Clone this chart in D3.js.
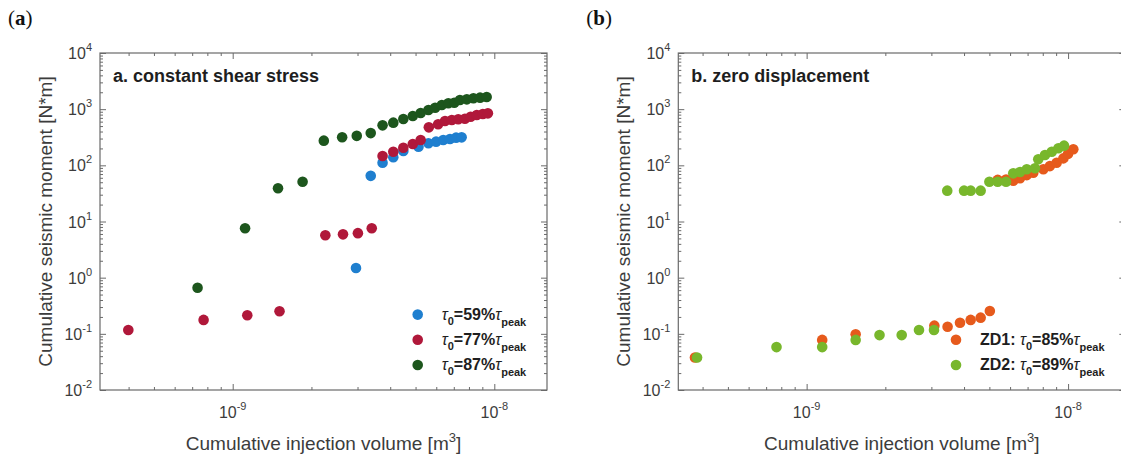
<!DOCTYPE html>
<html>
<head>
<meta charset="utf-8">
<script src="https://cdn.jsdelivr.net/npm/d3@7"></script>
<style>
  body { margin: 0; background: #fff; }
  svg { display: block; }
</style>
</head>
<body>
<svg id="chart" width="1121" height="456"></svg>
<script>
// ---- panel (a): constant shear stress ----
const volA59 = [2.96e-9, 3.37e-9, 3.74e-9, 4.11e-9, 4.49e-9, 5.13e-9, 5.6e-9, 5.99e-9, 6.38e-9, 6.77e-9, 7.14e-9, 7.5e-9];
const momA59 = [1.49, 65, 111, 139, 180, 215, 247, 264, 283, 294, 311, 315];

const volA77 = [3.99e-10, 7.74e-10, 1.137e-9, 1.51e-9, 2.26e-9, 2.64e-9, 3.01e-9, 3.4e-9, 3.74e-9, 4.11e-9, 4.49e-9, 4.88e-9,
  5.23e-9, 5.62e-9, 6.1e-9, 6.48e-9, 6.88e-9, 7.28e-9, 7.72e-9, 8.12e-9, 8.57e-9, 9.04e-9, 9.45e-9];
const momA77 = [0.117, 0.177, 0.214, 0.252, 5.7, 5.9, 6.2, 7.6, 147, 175, 206, 240,
  283, 475, 538, 615, 641, 660, 676, 735, 787, 820, 843];

const volA87 = [7.34e-10, 1.115e-9, 1.49e-9, 1.85e-9, 2.23e-9, 2.62e-9, 2.98e-9, 3.37e-9, 3.74e-9, 4.11e-9, 4.49e-9, 4.88e-9,
  5.23e-9, 5.6e-9, 5.94e-9, 6.3e-9, 6.67e-9, 7.03e-9, 7.39e-9, 7.85e-9, 8.32e-9, 8.82e-9, 9.35e-9];
const momA87 = [0.66, 7.6, 39, 51, 275, 316, 335, 375, 515, 575, 668, 757,
  855, 966, 1062, 1186, 1271, 1303, 1455, 1496, 1563, 1603, 1648];

// ---- panel (b): zero displacement ----
const volZD1 = [3.74e-10, 1.147e-9, 1.54e-9, 3.08e-9, 3.46e-9, 3.86e-9, 4.24e-9, 4.63e-9, 5.02e-9, 5.38e-9, 5.79e-9,
  6.17e-9, 6.55e-9, 6.95e-9, 7.36e-9, 8.04e-9, 8.52e-9, 9.04e-9, 9.59e-9, 1.0e-8, 1.047e-8];
const momZD1 = [0.038, 0.078, 0.098, 0.14, 0.134, 0.158, 0.177, 0.194, 0.255, 55, 56,
  53, 59, 67, 74, 85, 97, 111, 133, 160, 193];

const volZD2 = [3.81e-10, 7.67e-10, 1.147e-9, 1.54e-9, 1.9e-9, 2.31e-9, 2.69e-9, 3.07e-9, 3.45e-9, 4.0e-9, 4.24e-9, 4.63e-9,
  5.0e-9, 5.38e-9, 5.79e-9, 6.17e-9, 6.55e-9, 6.95e-9, 7.47e-9, 7.69e-9, 8.16e-9, 8.66e-9, 9.18e-9, 9.65e-9];
const momZD2 = [0.038, 0.058, 0.058, 0.078, 0.095, 0.095, 0.117, 0.117, 35.4, 35.4, 35.4, 35.4,
  51, 51, 51, 72, 76, 85, 88.5, 128, 153, 175, 201, 224];

const yTicks = [1e-2, 1e-1, 1e0, 1e1, 1e2, 1e3, 1e4];
const xTicks = [1e-9, 1e-8];

const legendA = [
  { pre: '', pct: '59', color: '#1f7fcf' },
  { pre: '', pct: '77', color: '#b0183a' },
  { pre: '', pct: '87', color: '#1d561d' },
];
const legendB = [
  { pre: 'ZD1: ', pct: '85', color: '#e65a1c' },
  { pre: 'ZD2: ', pct: '89', color: '#78b72c' },
];

const svg = d3.select('#chart');
const FONT = 'Arial, "Liberation Sans", Helvetica, sans-serif';
const AXC = '#6a6a6a', TXC = '#3c3c3c';

function minorTicks(domain) {
  const out = [];
  for (let e = -13; e <= 5; e++)
    for (let m = 2; m <= 9; m++) {
      const v = m * Math.pow(10, e);
      if (v > domain[0] && v < domain[1]) out.push(v);
    }
  return out;
}

function drawPanel(opt) {
  const left = opt.left, right = opt.left + 447, top = 53, bottom = 390;
  const g = svg.append('g');
  const x = d3.scaleLog().domain(opt.xDomain).range([left, right]);
  const y = d3.scaleLog().domain([1e-2, 1e4]).range([bottom, top]);

  // ticks on all four sides, pointing inward
  const axes = [
    [d3.axisBottom(x), xTicks, minorTicks(opt.xDomain), `translate(0,${bottom})`],
    [d3.axisTop(x), xTicks, minorTicks(opt.xDomain), `translate(0,${top})`],
    [d3.axisLeft(y), yTicks, minorTicks([1e-2, 1e4]), `translate(${left},0)`],
    [d3.axisRight(y), yTicks, minorTicks([1e-2, 1e4]), `translate(${right},0)`],
  ];
  axes.forEach(([ax, major, minor, tr]) => {
    g.append('g').attr('transform', tr)
      .call(ax.tickValues(minor).tickSize(-3).tickFormat(''))
      .call(s => s.select('.domain').remove())
      .selectAll('line').attr('stroke', AXC);
    g.append('g').attr('transform', tr)
      .call(ax.tickValues(major).tickSize(-6).tickFormat(''))
      .call(s => s.select('.domain').remove())
      .selectAll('line').attr('stroke', AXC);
  });
  g.append('rect').attr('x', left).attr('y', top).attr('width', right - left).attr('height', bottom - top)
    .attr('fill', 'none').attr('stroke', AXC).attr('stroke-width', 1.2);

  // tick labels 10^n
  const yl = g.append('g').attr('font-family', FONT).attr('fill', TXC);
  yTicks.forEach(v => {
    const t = yl.append('text').attr('x', left - 8).attr('y', y(v) + 6)
      .attr('text-anchor', 'end').attr('font-size', 16);
    t.append('tspan').text('10');
    t.append('tspan').attr('font-size', 11).attr('dy', -8).text(Math.round(Math.log10(v)));
  });
  xTicks.forEach(v => {
    const t = yl.append('text').attr('x', x(v)).attr('y', 418)
      .attr('text-anchor', 'middle').attr('font-size', 16);
    t.append('tspan').text('10');
    t.append('tspan').attr('font-size', 11).attr('dy', -8).text(Math.round(Math.log10(v)));
  });

  // axis titles
  const xt = g.append('text').attr('x', (left + right) / 2).attr('y', 450)
    .attr('text-anchor', 'middle').attr('font-family', FONT).attr('font-size', 19).attr('fill', TXC);
  xt.append('tspan').text('Cumulative injection volume [m');
  xt.append('tspan').attr('font-size', 13).attr('dy', -8).text('3');
  xt.append('tspan').attr('dy', 8).text(']');
  g.append('text').attr('transform', `translate(${left - 48},${(top + bottom) / 2}) rotate(-90)`)
    .attr('text-anchor', 'middle').attr('font-family', FONT).attr('font-size', 19).attr('fill', TXC)
    .text('Cumulative seismic moment [N*m]');

  // panel title inside axes
  g.append('text').attr('x', left + 13).attr('y', 82).attr('font-family', FONT)
    .attr('font-size', 18).attr('font-weight', 'bold').attr('fill', '#1e1e1e').text(opt.title);

  // outer panel letter
  const pl = g.append('text').attr('x', opt.left - 92).attr('y', 25)
    .attr('font-family', '"Liberation Serif", "DejaVu Serif", serif').attr('font-size', 21).attr('fill', '#111');
  pl.append('tspan').text('(');
  pl.append('tspan').attr('font-weight', 'bold').text(opt.letter);
  pl.append('tspan').text(')');

  // data
  opt.series.forEach(s => {
    g.append('g').selectAll('circle').data(d3.zip(s.vol, s.mom)).join('circle')
      .attr('cx', d => x(d[0])).attr('cy', d => y(d[1])).attr('r', 5.3)
      .attr('fill', s.color);
  });

  // legend
  const lg = g.append('g').attr('font-family', FONT).attr('font-weight', 'bold').attr('fill', '#1e1e1e');
  const n = opt.legend.length;
  opt.legend.forEach((d, i) => {
    const cy = 365 - (n - 1 - i) * 25.2;
    lg.append('circle').attr('cx', opt.legX).attr('cy', cy).attr('r', 5.3).attr('fill', d.color);
    const t = lg.append('text').attr('x', opt.legX + 24).attr('y', cy + 5).attr('font-size', 16);
    if (d.pre) t.append('tspan').text(d.pre);
    t.append('tspan').attr('font-style', 'italic').attr('font-weight', 'normal').text('τ');
    t.append('tspan').attr('font-size', 11).attr('dy', 5).text('0');
    t.append('tspan').attr('dy', -5).text(`=${d.pct}%`);
    t.append('tspan').attr('font-style', 'italic').attr('font-weight', 'normal').text('τ');
    t.append('tspan').attr('font-size', 11).attr('dy', 6).text('peak');
  });
}

drawPanel({
  left: 100, xDomain: [3.11e-10, 1.59e-8], title: 'a. constant shear stress', letter: 'a',
  legX: 417.7, legend: legendA,
  series: [
    { vol: volA59, mom: momA59, color: legendA[0].color },
    { vol: volA77, mom: momA77, color: legendA[1].color },
    { vol: volA87, mom: momA87, color: legendA[2].color },
  ],
});
drawPanel({
  left: 678.3, xDomain: [3.23e-10, 1.655e-8], title: 'b. zero displacement', letter: 'b',
  legX: 956, legend: legendB,
  series: [
    { vol: volZD1, mom: momZD1, color: legendB[0].color },
    { vol: volZD2, mom: momZD2, color: legendB[1].color },
  ],
});
</script>
</body>
</html>
